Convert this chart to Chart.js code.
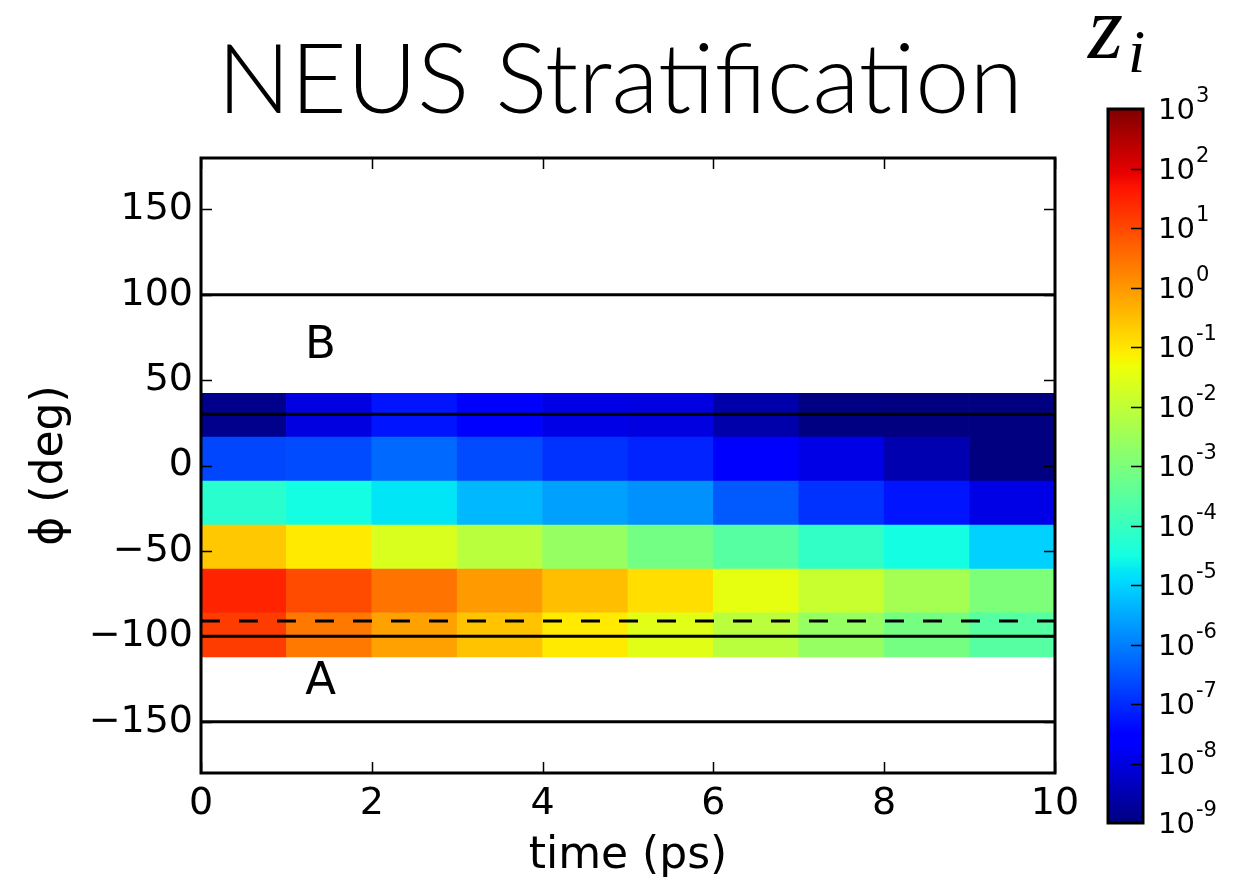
<!DOCTYPE html>
<html><head><meta charset="utf-8">
<script src="https://cdn.jsdelivr.net/npm/chart.js@4.4.1/dist/chart.umd.min.js"></script>
<style>
html,body{margin:0;padding:0;background:#fff;}
#wrap{position:relative;width:1234px;height:883px;overflow:hidden;background:#fff;}
#main{position:absolute;left:0;top:0;}
#cbar{position:absolute;left:1070px;top:0;}
</style></head><body>
<div id="wrap"><canvas id="main" width="1234" height="883"></canvas><canvas id="cbar" width="164" height="883"></canvas></div>
<script>
// ---- data ----
const timeStarts = [0, 1, 2, 3, 4, 5, 6, 7, 8, 9];           // time bins (ps), each 1 ps wide
const phiEdges = [-112, -86.3, -60.6, -34.9, -9.1, 16.6, 42.3]; // phi window edges (deg)
// log10(z_i) per phi window, bottom window first, one value per time bin
const logZ_win1 = [1.16, 0.40, -0.13, -0.56, -1.05, -1.52, -2.10, -2.61, -3.10, -3.56];
const logZ_win2 = [1.48, 0.97, 0.46, -0.05, -0.49, -0.90, -1.44, -1.88, -2.40, -2.97];
const logZ_win3 = [-0.62, -1.05, -1.64, -2.10, -2.61, -3.12, -3.56, -4.07, -4.51, -5.04];
const logZ_win4 = [-4.20, -4.51, -4.80, -5.33, -5.62, -5.79, -6.44, -6.91, -7.27, -7.94];
const logZ_win5 = [-6.68, -6.62, -6.27, -6.62, -6.91, -7.09, -7.60, -7.94, -8.50, -9.00];
const logZ_win6 = [-8.87, -8.00, -7.27, -7.60, -7.94, -8.00, -8.56, -8.97, -9.00, -9.00];
const logZRows = [logZ_win1, logZ_win2, logZ_win3, logZ_win4, logZ_win5, logZ_win6];
const xTicks = [0, 2, 4, 6, 8, 10];
const yTicks = [-150, -100, -50, 0, 50, 100, 150];
const solidLines = [100, 30, -100, -150];
const dashedLines = [-91];
const stateNames = ['B', 'A'];
const stateTime = [1.4, 1.4];
const statePhi = [70, -127];
const cbExponents = [-9, -8, -7, -6, -5, -4, -3, -2, -1, 0, 1, 2, 3];
const cbMinExp = -9, cbMaxExp = 3;

// ---- jet colormap ----
const JET_R = [[0,0],[0.35,0],[0.66,1],[0.89,1],[1,0.5]];
const JET_G = [[0,0],[0.125,0],[0.375,1],[0.64,1],[0.91,0],[1,0]];
const JET_B = [[0,0.5],[0.11,1],[0.34,1],[0.65,0],[1,0]];
function seg(pts, v) {
  v = Math.min(1, Math.max(0, v));
  for (let i = 1; i < pts.length; i++) {
    if (v <= pts[i][0]) {
      const [x0, y0] = pts[i-1], [x1, y1] = pts[i];
      return y0 + (y1 - y0) * (v - x0) / (x1 - x0);
    }
  }
  return pts[pts.length-1][1];
}
function jet(v) {
  return 'rgb(' + Math.round(255*seg(JET_R, v)) + ',' + Math.round(255*seg(JET_G, v)) + ',' + Math.round(255*seg(JET_B, v)) + ')';
}
const normLog = e => (e - cbMinExp) / (cbMaxExp - cbMinExp);

// ---- datasets ----
const datasets = [];
logZRows.forEach((vals, r) => {
  datasets.push({
    type: 'bar',
    data: timeStarts.map(t => ({ x: t + 0.5, y: [phiEdges[r], phiEdges[r+1]] })),
    backgroundColor: vals.map(e => jet(normLog(e))),
    borderWidth: 0,
    barPercentage: 1,
    categoryPercentage: 1,
    order: 2
  });
});
solidLines.forEach(p => datasets.push({
  type: 'line', data: [{x: 0, y: p}, {x: 10, y: p}],
  borderColor: '#000', borderWidth: 3, pointRadius: 0, fill: false, order: 0
}));
dashedLines.forEach(p => datasets.push({
  type: 'line', data: [{x: 0, y: p}, {x: 10, y: p}],
  borderColor: '#000', borderWidth: 3, borderDash: [19, 19], pointRadius: 0, fill: false, order: 0
}));

const fmt = v => (v < 0 ? '\u2212' + Math.abs(v) : String(v));

const decor = {
  id: 'decor',
  afterDatasetsDraw(chart) {
    const ctx = chart.ctx;
    const {left, right, top, bottom} = chart.chartArea;
    const xs = chart.scales.x, ys = chart.scales.y;
    ctx.save();
    ctx.fillStyle = '#000';
    ctx.font = '45px "DejaVu Sans"';
    ctx.textAlign = 'center';
    ctx.textBaseline = 'middle';
    stateNames.forEach((n, i) => ctx.fillText(n, xs.getPixelForValue(stateTime[i]), ys.getPixelForValue(statePhi[i])));
    ctx.strokeStyle = '#000';
    ctx.lineWidth = 1.5;
    const tl = 11;
    ctx.beginPath();
    yTicks.forEach(v => {
      const y = Math.round(ys.getPixelForValue(v)) + 0.5;
      ctx.moveTo(left, y); ctx.lineTo(left + tl, y);
      ctx.moveTo(right, y); ctx.lineTo(right - tl, y);
    });
    xTicks.forEach(v => {
      const x = Math.round(xs.getPixelForValue(v)) + 0.5;
      ctx.moveTo(x, bottom); ctx.lineTo(x, bottom - tl);
      ctx.moveTo(x, top); ctx.lineTo(x, top + tl);
    });
    ctx.stroke();
    ctx.lineWidth = 3;
    ctx.strokeRect(left, top, right - left, bottom - top);
    ctx.restore();
  }
};

new Chart(document.getElementById('main'), {
  type: 'bar',
  data: { datasets },
  options: {
    responsive: false, animation: false, devicePixelRatio: 1,
    layout: { padding: { left: 6, right: 0, top: 0, bottom: 0 } },
    plugins: {
      legend: { display: false }, tooltip: { enabled: false },
      title: {
        display: true, text: 'NEUS Stratification', color: '#000',
        font: { family: 'Lato', size: 97, weight: '300', lineHeight: 1.2 },
        padding: { top: 24, bottom: 17.6 }
      }
    },
    scales: {
      x: {
        type: 'linear', min: 0, max: 10, stacked: true, offset: false,
        afterBuildTicks: s => { s.ticks = xTicks.map(v => ({ value: v })); },
        ticks: { color: '#000', font: { family: 'DejaVu Sans', size: 38 }, padding: 8, maxRotation: 0, callback: v => fmt(v) },
        grid: { display: false, drawTicks: false, offset: false }, border: { display: false },
        title: { display: true, text: 'time (ps)', color: '#000', font: { family: 'DejaVu Sans', size: 44 }, padding: { top: 0, bottom: 0 } },
        afterFit: s => { s.height = 110; }
      },
      y: {
        type: 'linear', min: -180, max: 180,
        afterBuildTicks: s => { s.ticks = yTicks.map(v => ({ value: v })); },
        ticks: { color: '#000', font: { family: 'DejaVu Sans', size: 38 }, padding: 8, callback: v => fmt(v) },
        grid: { display: false, drawTicks: false }, border: { display: false },
        title: { display: true, text: '\u03D5 (deg)', color: '#000', font: { family: 'DejaVu Sans', size: 44 }, padding: { top: 18, bottom: 0 } },
        afterFit: s => { s.width = 195; }
      },
      yR: {
        type: 'linear', position: 'right', min: -180, max: 180, display: true,
        ticks: { display: false }, grid: { display: false, drawTicks: false }, border: { display: false },
        afterFit: s => { s.width = 179; }
      }
    }
  },
  plugins: [decor]
});

// ---- colorbar ----
const cbDecor = {
  id: 'cbDecor',
  afterDraw(chart) {
    const ctx = chart.ctx;
    const {left, right, top, bottom} = chart.chartArea;
    const ys = chart.scales.y;
    ctx.save();
    const g = ctx.createLinearGradient(0, bottom, 0, top);
    [0,0.11,0.125,0.34,0.35,0.375,0.64,0.65,0.66,0.89,0.91,1].forEach(v => g.addColorStop(v, jet(v)));
    ctx.fillStyle = g;
    ctx.fillRect(left, top, right - left, bottom - top);
    ctx.strokeStyle = '#000';
    ctx.lineWidth = 1.5;
    ctx.beginPath();
    cbExponents.forEach(e => {
      if (e === cbMinExp || e === cbMaxExp) return;
      const y = Math.round(ys.getPixelForValue(Math.pow(10, e))) + 0.5;
      ctx.moveTo(right, y); ctx.lineTo(right - 12, y);
    });
    ctx.stroke();
    ctx.lineWidth = 3;
    ctx.strokeRect(left, top, right - left, bottom - top);
    ctx.fillStyle = '#000';
    ctx.textAlign = 'left';
    ctx.textBaseline = 'alphabetic';
    cbExponents.forEach(e => {
      const y = ys.getPixelForValue(Math.pow(10, e));
      const x = right + 15;
      ctx.font = '29px "DejaVu Sans"';
      ctx.fillText('10', x, y + 10);
      const w = ctx.measureText('10').width;
      ctx.font = '21px "DejaVu Sans"';
      ctx.fillText(e < 0 ? '-' + Math.abs(e) : String(e), x + w + 1, y - 7);
    });
    ctx.font = 'italic 90px "Liberation Serif"';
    ctx.fillText('z', 18, 58);
    ctx.font = 'italic 62px "Liberation Serif"';
    ctx.fillText('i', 58, 72);
    ctx.restore();
  }
};
new Chart(document.getElementById('cbar'), {
  type: 'bar',
  data: { datasets: [] },
  options: {
    responsive: false, animation: false, devicePixelRatio: 1,
    layout: { padding: { left: 38, right: 0, top: 109, bottom: 60 } },
    plugins: { legend: { display: false }, tooltip: { enabled: false } },
    scales: {
      x: { type: 'linear', display: false, min: 0, max: 1 },
      y: {
        type: 'logarithmic', position: 'right', min: Math.pow(10, cbMinExp), max: Math.pow(10, cbMaxExp),
        afterBuildTicks: s => { s.ticks = cbExponents.map(e => ({ value: Math.pow(10, e), major: true })); },
        ticks: { display: false }, grid: { display: false, drawTicks: false }, border: { display: false },
        afterFit: s => { s.width = 91; }
      }
    }
  },
  plugins: [cbDecor]
});
</script>
</body></html>
